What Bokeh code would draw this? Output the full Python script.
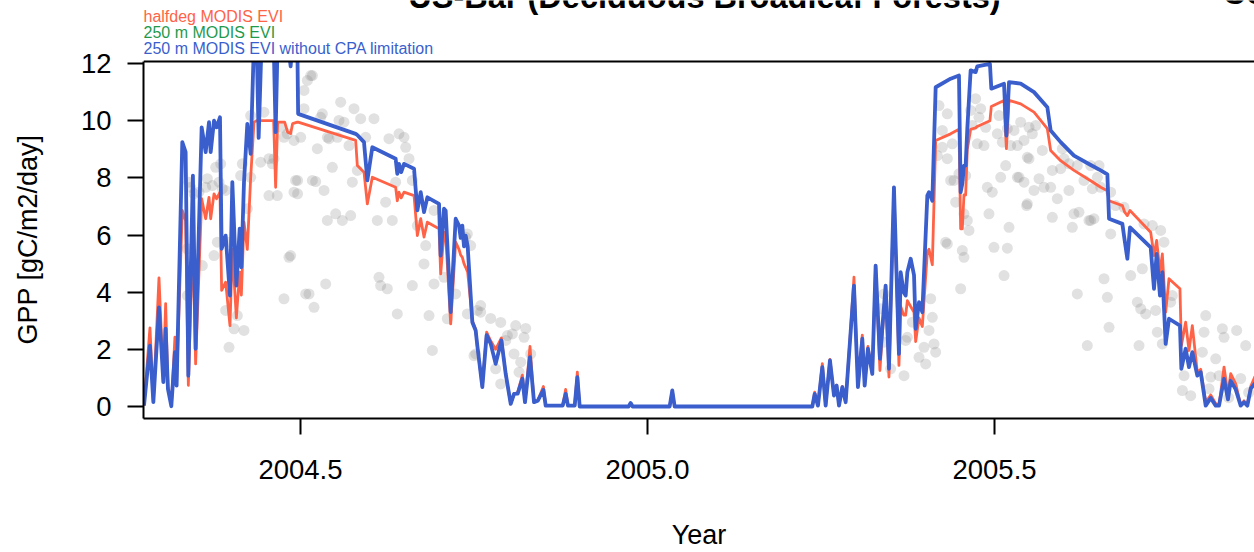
from bokeh.plotting import figure
from bokeh.models import Range1d, FixedTicker, PrintfTickFormatter, Label, Span, BoxAnnotation
from bokeh.embed import file_html
from bokeh.resources import INLINE

# ---------------- data ----------------
t_model = [
    2004.2745, 2004.2831, 2004.2880, 2004.2961, 2004.3024, 2004.3057, 2004.3090, 2004.3139,
    2004.3191, 2004.3215, 2004.3297, 2004.3345, 2004.3384, 2004.3450, 2004.3489, 2004.3576,
    2004.3634, 2004.3682, 2004.3706, 2004.3754, 2004.3792, 2004.3840, 2004.3864, 2004.3922,
    2004.3984, 2004.4018, 2004.4076, 2004.4124, 2004.4148, 2004.4186, 2004.4234, 2004.4282,
    2004.4330, 2004.4368, 2004.4397, 2004.4440, 2004.4613, 2004.4642, 2004.4671, 2004.4772,
    2004.4815, 2004.4858, 2004.4887, 2004.4954, 2004.4966,
    2004.5795, 2004.5819, 2004.5915, 2004.5963, 2004.6035, 2004.6371, 2004.6395, 2004.6419,
    2004.6451, 2004.6492, 2004.6636, 2004.6684, 2004.6732, 2004.6780, 2004.6828, 2004.6996,
    2004.7020, 2004.7068, 2004.7092, 2004.7164, 2004.7236, 2004.7284, 2004.7308, 2004.7332,
    2004.7356, 2004.7380, 2004.7409, 2004.7476, 2004.7524, 2004.7548, 2004.7620, 2004.7682,
    2004.7740, 2004.7812, 2004.7895, 2004.7957, 2004.8029, 2004.8077, 2004.8130, 2004.8197,
    2004.8235, 2004.8307, 2004.8365, 2004.8418, 2004.8500, 2004.8533, 2004.8778, 2004.8821,
    2004.8854, 2004.8951, 2004.8989, 2004.9023, 2004.9728, 2004.9757, 2004.9786, 2005.0319,
    2005.0357, 2005.0391, 2005.2375,
    2005.2409, 2005.2456, 2005.2519, 2005.2567, 2005.2629, 2005.2687, 2005.2725, 2005.2759,
    2005.2807, 2005.2855, 2005.2927, 2005.2975, 2005.3032, 2005.3095, 2005.3129, 2005.3176,
    2005.3239, 2005.3287, 2005.3349, 2005.3431, 2005.3479, 2005.3551, 2005.3623, 2005.3648,
    2005.3691, 2005.3720, 2005.3744, 2005.3792, 2005.3840, 2005.3864, 2005.3912, 2005.3960,
    2005.4032, 2005.4056, 2005.4104, 2005.4152, 2005.4368, 2005.4488, 2005.4512, 2005.4536,
    2005.4560, 2005.4584, 2005.4608, 2005.4656, 2005.4728, 2005.4752, 2005.4934, 2005.4954,
    2005.5137, 2005.5171, 2005.5209, 2005.5377, 2005.5569, 2005.5761, 2005.5809, 2005.5953,
    2005.6145, 2005.6386, 2005.6530, 2005.6626, 2005.6650, 2005.6842, 2005.6876, 2005.6914,
    2005.6952, 2005.7250, 2005.7298, 2005.7336, 2005.7384, 2005.7418, 2005.7466, 2005.7514,
    2005.7672, 2005.7692, 2005.7754, 2005.7802, 2005.7850, 2005.7922, 2005.7971, 2005.8043,
    2005.8115, 2005.8187, 2005.8235, 2005.8307, 2005.8364, 2005.8403, 2005.8475, 2005.8547,
    2005.8595, 2005.8643, 2005.8691, 2005.8749, 2005.8835,
]

gpp_halfdeg = [
    0.03, 2.75, 0.20, 4.50, 0.90, 3.60, 0.70, 0.05,
    2.43, 0.85, 6.86, 6.50, 0.74, 6.00, 1.49, 7.27,
    6.57, 7.32, 6.57, 7.44, 7.27, 7.50, 4.06, 4.35,
    2.83, 5.50, 3.10, 4.70, 3.90, 6.45, 5.50, 8.00,
    9.95, 10.00, 10.00, 10.00, 10.00, 7.67, 9.95, 9.95,
    9.60, 9.55, 9.90, 9.95, 9.95,
    9.31, 8.43, 8.20, 7.09, 8.02, 7.67, 7.20, 7.50,
    7.30, 7.50, 7.38, 5.98, 6.57, 5.93, 6.45, 6.22,
    4.64, 6.10, 6.00, 2.89, 5.75, 5.50, 5.30, 5.22,
    5.00, 4.87, 4.70, 3.00, 2.70, 2.10, 0.68, 2.60,
    2.30, 2.00, 2.40, 1.14, 0.09, 0.44, 0.50, 1.10,
    0.15, 2.10, 0.15, 0.20, 0.70, 0.03, 0.03, 0.60,
    0.03, 0.03, 1.20, 0.00, 0.00, 0.12, 0.00, 0.00,
    0.56, 0.00, 0.00,
    0.50, 0.03, 1.50, 0.03, 1.65, 0.40, 0.75, 0.03,
    0.70, 0.15, 2.70, 4.53, 0.70, 2.50, 0.75, 2.10,
    1.14, 4.93, 1.26, 4.23, 1.03, 7.67, 1.44, 3.50,
    3.20, 3.20, 3.70, 3.50, 3.30, 2.27, 3.10, 2.80,
    5.40, 5.50, 4.96, 9.31, 9.54, 9.70, 6.22, 6.22,
    7.40, 7.40, 9.00, 9.70, 9.75, 9.80, 10.00, 10.50,
    10.71, 9.02, 10.71, 10.59, 10.30, 9.72, 8.96, 8.60,
    8.26, 7.90, 7.67, 7.55, 7.20, 7.03, 6.80, 6.68,
    6.86, 6.10, 5.28, 5.81, 4.70, 5.34, 3.30, 4.47,
    4.12, 2.13, 2.95, 1.96, 2.83, 1.20, 1.30, 0.15,
    0.40, 0.10, 0.05, 1.38, 0.40, 1.15, 0.80, 0.05,
    0.20, 0.05, 0.70, 1.03, 1.10,
]

gpp_250m_nocpa = [
    0.03, 2.13, 0.15, 3.47, 0.85, 2.72, 0.62, 0.01,
    1.90, 0.73, 9.25, 8.90, 1.08, 8.08, 2.02, 9.77,
    8.90, 9.95, 8.90, 10.00, 9.77, 10.12, 5.52, 5.98,
    3.88, 7.85, 4.23, 6.22, 4.87, 7.85, 9.89, 8.84,
    12.80, 12.80, 9.40, 12.80, 12.80, 9.60, 12.80, 12.80,
    12.80, 11.90, 12.80, 12.80, 10.24,
    9.54, 9.50, 9.25, 7.91, 9.07, 8.67, 8.14, 8.49,
    8.20, 8.49, 8.32, 6.86, 7.50, 6.80, 7.32, 7.09,
    5.28, 6.92, 6.85, 3.30, 6.57, 6.33, 5.90, 6.33,
    5.60, 5.98, 5.60, 2.95, 2.66, 2.13, 0.68, 2.50,
    2.20, 1.49, 2.31, 1.14, 0.09, 0.44, 0.45, 0.97,
    0.15, 1.73, 0.15, 0.20, 0.58, 0.03, 0.03, 0.44,
    0.03, 0.03, 1.03, 0.00, 0.00, 0.12, 0.00, 0.00,
    0.56, 0.00, 0.00,
    0.44, 0.03, 1.38, 0.03, 1.61, 0.38, 0.73, 0.03,
    0.68, 0.15, 2.60, 4.23, 0.68, 2.37, 0.73, 2.02,
    1.14, 4.93, 1.67, 4.23, 1.32, 7.67, 1.84, 4.70,
    4.00, 3.88, 4.70, 5.17, 4.60, 2.72, 3.65, 3.30,
    7.38, 7.50, 7.20, 11.17, 11.47, 11.58, 7.50, 7.80,
    8.43, 8.43, 9.72, 11.76, 11.70, 11.90, 11.99, 11.12,
    11.29, 9.48, 11.35, 11.30, 11.00, 10.47, 9.66, 9.25,
    8.78, 8.45, 8.26, 8.12, 6.57, 6.39, 5.80, 5.17,
    6.27, 5.57, 4.12, 5.34, 3.88, 4.70, 2.19, 3.07,
    2.83, 1.32, 2.02, 1.38, 1.90, 1.08, 1.20, 0.03,
    0.30, 0.03, 0.03, 0.97, 0.25, 0.90, 0.60, 0.03,
    0.15, 0.03, 0.62, 0.80, 0.90,
]

obs_t = [
    2004.4282, 2004.4474, 2004.3778, 2004.4162, 2004.4138, 2004.4282, 2004.3658, 2004.3634,
    2004.3730, 2004.3874, 2004.3537, 2004.3826, 2004.3922, 2004.3946, 2004.3802, 2004.3754,
    2004.3586, 2004.3369, 2004.3369, 2004.3922, 2004.4042, 2004.4186, 2004.3970, 2004.4090,
    2004.4234, 2004.4426, 2004.4546, 2004.4594, 2004.4546, 2004.4666, 2004.4906, 2004.4930,
    2004.4858, 2004.4834, 2004.4762, 2004.5075, 2004.4762, 2004.4906, 2004.4810, 2004.5003,
    2004.5051, 2004.5051, 2004.3465, 2004.5171, 2004.5099, 2004.4726, 2004.5243, 2004.5315,
    2004.5387, 2004.4618, 2004.5171, 2004.5339, 2004.5387, 2004.3850, 2004.3417, 2004.3393,
    2004.5147, 2004.5579, 2004.5771, 2004.5291, 2004.5555, 2004.5627, 2004.5867, 2004.6059,
    2004.5411, 2004.5531, 2004.5699, 2004.5939, 2004.6275, 2004.6419, 2004.6492, 2004.6516,
    2004.6564, 2004.5459, 2004.5819, 2004.4958, 2004.5219, 2004.5747, 2004.6227, 2004.6371,
    2004.6612, 2004.6924, 2004.4958, 2004.5507, 2004.5603, 2004.5723, 2004.6107, 2004.6323,
    2004.6684, 2004.6804, 2004.6780, 2004.6924, 2004.6612, 2004.5363, 2004.5123, 2004.5195,
    2004.6131, 2004.6155, 2004.6251, 2004.6395, 2004.6852, 2004.7116, 2004.7236, 2004.7068,
    2004.7404, 2004.7452, 2004.7548, 2004.7596, 2004.7404, 2004.6900, 2004.7524, 2004.7380,
    2004.7596, 2004.7500, 2004.7812, 2004.7885, 2004.8077, 2004.8173, 2004.8149, 2004.8317,
    2004.7981, 2004.8053, 2004.8221, 2004.7957, 2004.7740, 2004.7885, 2004.8101, 2004.8245,
    2005.4200, 2005.4320, 2005.4248, 2005.4320, 2005.4368, 2005.4176, 2005.4296, 2005.4080,
    2005.4104, 2005.4056, 2005.3984, 2005.4128, 2005.4152, 2005.3912, 2005.4008, 2005.3744,
    2005.3720, 2005.3816, 2005.3696, 2005.3503, 2005.3407, 2005.3359, 2005.3407, 2005.4248,
    2005.4392, 2005.4416, 2005.4584, 2005.4560, 2005.4608, 2005.4728, 2005.4656, 2005.4800,
    2005.4776, 2005.4872, 2005.4752, 2005.4848, 2005.5065, 2005.5041, 2005.5185, 2005.5281,
    2005.5377, 2005.5497, 2005.5593, 2005.5545, 2005.5425, 2005.5329, 2005.5233, 2005.5113,
    2005.5161, 2005.5473, 2005.5329, 2005.5425, 2005.5089, 2005.4896, 2005.4968, 2005.5569,
    2005.5641, 2005.5713, 2005.5809, 2005.5833, 2005.5953, 2005.6073, 2005.5905, 2005.6073,
    2005.6145, 2005.5689, 2005.5977, 2005.5473, 2005.5833, 2005.4920, 2005.5209, 2005.6121,
    2005.4632, 2005.4320, 2005.4440, 2005.4488, 2005.4536, 2005.4560, 2005.4512, 2005.4992,
    2005.5185, 2005.5137, 2005.5353, 2005.5463, 2005.6217, 2005.6361, 2005.6433, 2005.6193,
    2005.6337, 2005.5497, 2005.4680, 2005.6001, 2005.6193, 2005.6289, 2005.6410, 2005.6482,
    2005.6530, 2005.6386, 2005.6506, 2005.6386, 2005.6674, 2005.6746, 2005.6866, 2005.7154,
    2005.7274, 2005.7394, 2005.7442, 2005.6962, 2005.7130, 2005.6578, 2005.6626, 2005.7058,
    2005.7106, 2005.7178, 2005.7322, 2005.7562, 2005.7538, 2005.6650, 2005.7082, 2005.7346,
    2005.7418, 2005.8043, 2005.8019, 2005.8283, 2005.8307, 2005.7995, 2005.8187, 2005.7731,
    2005.7707, 2005.7827, 2005.8091, 2005.8115, 2005.8235, 2005.8489, 2005.8619, 2005.8547,
    2005.8662, 2005.8374, 2005.6674,
]

obs_gpp = [
    10.18, 10.30, 8.37, 8.49, 8.08, 8.02, 7.97, 7.67,
    7.73, 7.62, 7.50, 7.85, 7.56, 5.75, 5.75, 5.28,
    4.93, 5.52, 3.88, 3.36, 2.72, 2.66, 2.07, 3.18,
    6.92, 8.55, 8.67, 8.49, 7.38, 7.38, 7.50, 7.91,
    5.28, 5.22, 3.77, 3.94, 9.42, 9.31, 9.54, 9.42,
    10.42, 11.06, 7.44, 11.58, 11.41, 9.77, 9.02, 10.24,
    9.42, 8.67, 7.91, 7.56, 6.51, 8.49, 7.67, 7.85,
    11.58, 10.65, 10.42, 10.12, 10.01, 9.95, 10.07, 10.07,
    9.37, 9.42, 9.13, 9.42, 9.37, 9.54, 9.42, 9.07,
    8.67, 8.37, 8.26, 7.91, 7.87, 7.85, 7.15, 7.85,
    7.91, 6.86, 7.44, 6.74, 6.51, 6.68, 6.51, 6.51,
    6.33, 5.63, 4.99, 4.29, 4.23, 4.29, 3.94, 3.47,
    4.52, 4.23, 4.12, 3.24, 3.18, 3.07, 3.94, 4.52,
    6.04, 5.63, 3.36, 3.30, 3.24, 1.96, 1.84, 5.92,
    3.53, 1.78, 1.32, 0.79, 1.84, 1.55, 1.20, 1.84,
    2.48, 2.54, 2.42, 2.31, 3.08, 2.94, 2.83, 2.73,
    10.53, 10.24, 9.66, 8.67, 7.91, 8.78, 5.75, 3.77,
    3.12, 2.66, 2.07, 2.19, 1.90, 1.72, 1.49, 2.42,
    2.31, 2.95, 1.08, 1.32, 3.94, 3.42, 2.25, 9.07,
    9.19, 7.91, 8.08, 6.74, 6.51, 10.77, 10.36, 10.42,
    10.12, 9.77, 9.19, 9.13, 10.18, 9.54, 9.72, 9.66,
    9.95, 9.77, 9.83, 9.54, 9.31, 9.13, 9.13, 9.25,
    8.43, 8.72, 8.02, 7.85, 8.02, 7.67, 7.50, 7.56,
    7.97, 7.67, 7.67, 8.26, 8.32, 8.49, 7.27, 7.56,
    6.74, 8.96, 9.02, 7.09, 6.62, 6.74, 6.27, 6.27,
    6.16, 5.69, 7.15, 8.14, 5.46, 5.22, 4.12, 5.57,
    5.54, 4.58, 8.02, 7.03, 6.80, 6.51, 6.57, 3.94,
    2.13, 8.67, 9.83, 8.67, 8.43, 7.91, 7.62, 8.02,
    7.67, 8.43, 8.43, 6.51, 6.04, 7.03, 6.97, 6.39,
    6.33, 6.16, 5.75, 4.58, 4.82, 4.47, 3.82, 3.65,
    3.42, 3.24, 3.36, 3.88, 3.65, 2.77, 2.13, 2.60,
    2.19, 3.18, 2.60, 2.72, 2.42, 1.90, 1.67, 1.08,
    0.56, 0.38, 0.62, 1.03, 1.08, 2.66, 2.13, 0.98,
    0.49, 0.31, 7.50,
]

x_ticks = [2004.5, 2005.0, 2005.5]
y_ticks = [0, 2, 4, 6, 8, 10, 12]

title_text = "US-Bar (Deciduous Broadleaf Forests)"
legend_labels = ["halfdeg MODIS EVI", "250 m MODIS EVI", "250 m MODIS EVI without CPA limitation"]
y_title = "GPP [gC/m2/day]"

# ---------------- layout constants ----------------
FONT = "Liberation Sans"
RED = "#FF6347"
GREEN = "#1F9A4C"
BLUE = "#3A5FCD"
Y_LO, Y_BOX_TOP, Y_CANVAS_TOP = -0.42, 12.07, 14.206   # plot box top; canvas top in data units
X_LO, X_HI = 2004.2738, 2005.8746
NBSP = "\u00a0"

p = figure(width=1254, height=552, output_backend="svg", toolbar_location=None,
           x_range=Range1d(X_LO, X_HI), y_range=Range1d(Y_LO, Y_CANVAS_TOP),
           min_border_left=143, min_border_right=0, min_border_top=0, min_border_bottom=134,
           x_axis_label="Year", y_axis_label=y_title + NBSP * 8)
p.outline_line_color = None
p.grid.visible = False
p.background_fill_color = "white"
p.border_fill_color = "white"

for ax in p.axis:
    ax.axis_line_color = "black"
    ax.axis_line_width = 2
    ax.major_tick_line_color = "black"
    ax.major_tick_line_width = 2
    ax.major_tick_out = 16
    ax.major_tick_in = 0
    ax.minor_tick_out = 0
    ax.minor_tick_in = 0
    ax.major_label_text_font = FONT
    ax.major_label_text_font_size = "27.5px"
    ax.major_label_text_color = "black"
    ax.axis_label_text_font = FONT
    ax.axis_label_text_font_size = "27px"
    ax.axis_label_text_font_style = "normal"
    ax.axis_label_text_color = "black"

p.xaxis.ticker = FixedTicker(ticks=x_ticks)
p.xaxis.formatter = PrintfTickFormatter(format="%.1f")
p.xaxis.major_label_standoff = 25
p.xaxis.axis_label_standoff = 38
p.yaxis.ticker = FixedTicker(ticks=y_ticks)
p.yaxis.bounds = (Y_LO, Y_BOX_TOP)
p.yaxis.major_label_standoff = 16
p.yaxis.axis_label_standoff = 35

# ---------------- glyphs ----------------
p.scatter(obs_t, obs_gpp, size=11, fill_color="#8c8c8c", fill_alpha=0.26, line_color=None)
p.line(t_model, gpp_halfdeg, line_color=RED, line_width=2.8, line_join="round")
p.line(t_model, gpp_250m_nocpa, line_color=BLUE, line_width=3.8, line_join="round")

# mask above the plot box (lines leave the box there) and the box's top edge
p.add_layout(BoxAnnotation(bottom=Y_BOX_TOP, fill_color="white", fill_alpha=1.0,
                           line_color=None, line_alpha=0))
p.add_layout(Span(location=Y_BOX_TOP, dimension="width", line_color="black", line_width=2))

# ---------------- texts ----------------
p.add_layout(Label(x=2005.0821, y=14.33, text=title_text, text_align="center",
                   text_baseline="alphabetic", text_font=FONT, text_font_size="32.5px",
                   text_font_style="bold", text_color="black"))
p.add_layout(Label(x=2005.8285, y=14.47, text="Co", text_align="left",
                   text_baseline="alphabetic", text_font=FONT, text_font_size="32.5px",
                   text_font_style="bold", text_color="black"))
for lab, col, yy in zip(legend_labels, [RED, GREEN, BLUE], [13.63, 13.07, 12.51]):
    p.add_layout(Label(x=X_LO, y=yy, text=lab, text_align="left",
                       text_baseline="alphabetic", text_font=FONT, text_font_size="16px",
                       text_color=col))

open("out.html", "w").write(file_html(p, INLINE))
